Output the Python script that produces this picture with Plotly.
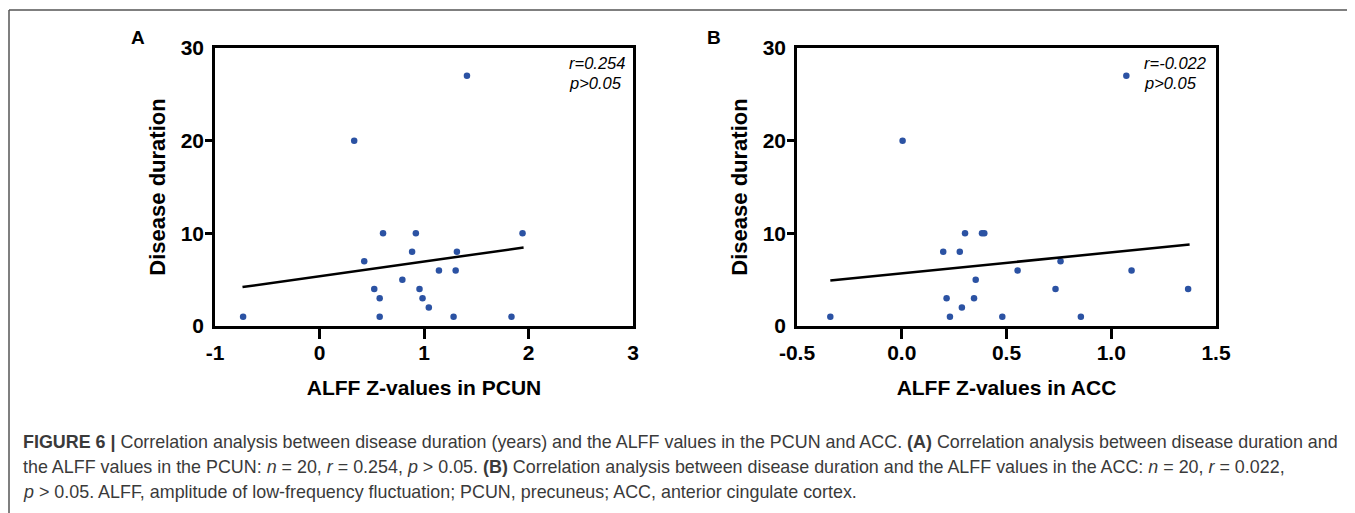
import plotly.graph_objects as go

# ---- data ----
a_x = [-0.731, 0.332, 1.411, 0.428, 0.524, 0.576, 0.576, 0.608, 0.793, 0.886,
       0.922, 0.957, 0.986, 1.046, 1.143, 1.283, 1.303, 1.315, 1.837, 1.943]
a_y = [1, 20, 27, 7, 4, 3, 1, 10, 5, 8, 10, 4, 3, 2, 6, 1, 6, 8, 1, 10]

b_x = [-0.341, 0.004, 1.072, 0.198, 0.214, 0.230, 0.277, 0.287, 0.302, 0.345,
       0.353, 0.383, 0.394, 0.480, 0.553, 0.734, 0.758, 0.855, 1.097, 1.367]
b_y = [1, 20, 27, 8, 3, 1, 8, 2, 10, 3, 5, 10, 10, 1, 6, 4, 7, 1, 6, 4]

a_fit_x = [-0.737, 1.953]
a_fit_y = [4.20, 8.47]
b_fit_x = [-0.341, 1.374]
b_fit_y = [4.92, 8.79]

y_ticks = [0, 10, 20, 30]
y_minor = [10, 20]
a_xticks = [-1, 0, 1, 2, 3]
a_xticklabels = ["-1", "0", "1", "2", "3"]
a_xminor = [0, 1, 2]
b_xticks = [-0.5, 0.0, 0.5, 1.0, 1.5]
b_xticklabels = ["-0.5", "0.0", "0.5", "1.0", "1.5"]
b_xminor = [0.0, 0.5, 1.0]

a_stats = ["r=0.254", "p>0.05"]
b_stats = ["r=-0.022", "p>0.05"]

caption_lines = [
    "<b>FIGURE 6 |</b> Correlation analysis between disease duration (years) and the ALFF values in the PCUN and ACC. "
    "<b>(A)</b> Correlation analysis between disease duration and",
    "the ALFF values in the PCUN: <i>n</i> = 20, <i>r</i> = 0.254, <i>p</i> > 0.05. <b>(B)</b> Correlation analysis "
    "between disease duration and the ALFF values in the ACC: <i>n</i> = 20, <i>r</i> = 0.022,",
    "<i>p</i> > 0.05. ALFF, amplitude of low-frequency fluctuation; PCUN, precuneus; ACC, anterior cingulate cortex.",
]

# the page body has an 8px margin, so the figure is sized to fill the window exactly
OFF = 8
W, H = 1355 - OFF, 513 - OFF
FONT = "Liberation Sans, Arial, Helvetica, sans-serif"
DOT = "#2b52a3"


def px(x):
    return (x - OFF) / W


def py(y):
    return 1 - (y - OFF) / H


fig = go.Figure()
fig.add_trace(go.Scatter(x=a_x, y=a_y, mode="markers", xaxis="x", yaxis="y",
                         marker=dict(color=DOT, size=6.5), hoverinfo="x+y"))
fig.add_trace(go.Scatter(x=a_fit_x, y=a_fit_y, mode="lines", xaxis="x", yaxis="y",
                         line=dict(color="black", width=2.5), hoverinfo="skip"))
fig.add_trace(go.Scatter(x=b_x, y=b_y, mode="markers", xaxis="x2", yaxis="y2",
                         marker=dict(color=DOT, size=6.5), hoverinfo="x+y"))
fig.add_trace(go.Scatter(x=b_fit_x, y=b_fit_y, mode="lines", xaxis="x2", yaxis="y2",
                         line=dict(color="black", width=2.5), hoverinfo="skip"))

tickfont = dict(family=FONT, size=21, color="black", weight="bold")
titlefont = dict(family=FONT, size=21, color="black", weight="bold")

common_x = dict(ticks="", showline=True, mirror=True, linewidth=2.5, linecolor="black",
                showgrid=False, zeroline=False, tickfont=tickfont, ticklabelstandoff=6,
                automargin=False)
common_y = dict(range=[0, 30], tickvals=y_ticks, ticks="", showline=True, mirror=True,
                linewidth=2.5, linecolor="black", showgrid=False, zeroline=False,
                tickfont=tickfont, ticklabelstandoff=4, automargin=False,
                minor=dict(tickvals=y_minor, ticks="outside", ticklen=7, tickwidth=2.5,
                           tickcolor="black", showgrid=False),
                title=dict(text="Disease duration", font=dict(family=FONT, size=22, color="black",
                                                              weight="bold"), standoff=9))

xd_a = [px(215), px(633)]
xd_b = [px(797), px(1216)]
yd = [py(326), py(48)]

fig.update_layout(
    width=W, height=H,
    margin=dict(l=0, r=0, t=0, b=0, pad=0, autoexpand=False),
    paper_bgcolor="white", plot_bgcolor="white",
    showlegend=False,
    xaxis=dict(domain=xd_a, range=[-1, 3], tickvals=a_xticks, ticktext=a_xticklabels,
               minor=dict(tickvals=a_xminor, ticks="outside", ticklen=10, tickwidth=2.5,
                          tickcolor="black", showgrid=False),
               title=dict(text="ALFF Z-values in PCUN", font=titlefont, standoff=18),
               anchor="y", **common_x),
    yaxis=dict(domain=yd, anchor="x", **common_y),
    xaxis2=dict(domain=xd_b, range=[-0.5, 1.5], tickvals=b_xticks, ticktext=b_xticklabels,
                minor=dict(tickvals=b_xminor, ticks="outside", ticklen=10, tickwidth=2.5,
                           tickcolor="black", showgrid=False),
                title=dict(text="ALFF Z-values in ACC", font=titlefont, standoff=18),
                anchor="y2", **common_x),
    yaxis2=dict(domain=yd, anchor="x2", **common_y),
)

ann = []
# panel letters
ann.append(dict(text="<b>A</b>", x=px(138), y=py(37), xref="paper", yref="paper",
                xanchor="center", yanchor="middle",
                showarrow=False, font=dict(family=FONT, size=19, color="black")))
ann.append(dict(text="<b>B</b>", x=px(714), y=py(37), xref="paper", yref="paper",
                xanchor="center", yanchor="middle",
                showarrow=False, font=dict(family=FONT, size=19, color="black")))
# stats
for i, t in enumerate(a_stats):
    ann.append(dict(text="<i>%s</i>" % t, x=px(567), y=py(63 + 20 * i), xref="paper", yref="paper",
                    xanchor="left", yanchor="middle", showarrow=False,
                    font=dict(family=FONT, size=16.5, color="black")))
for i, t in enumerate(b_stats):
    ann.append(dict(text="<i>%s</i>" % t, x=px(1142), y=py(63 + 20 * i), xref="paper", yref="paper",
                    xanchor="left", yanchor="middle", showarrow=False,
                    font=dict(family=FONT, size=16.5, color="black")))
# caption
for i, t in enumerate(caption_lines):
    ann.append(dict(text=t, x=px(21), y=py(442 + 25 * i), xref="paper", yref="paper",
                    xanchor="left", yanchor="middle", showarrow=False, align="left",
                    font=dict(family=FONT, size=17.9, color="#3a3a3a")))
fig.update_layout(annotations=ann)

# frame (top and left edges)
fig.update_layout(shapes=[
    dict(type="line", xref="paper", yref="paper", x0=px(9), x1=1.0, y0=py(10), y1=py(10),
         line=dict(color="#555555", width=1.5)),
    dict(type="line", xref="paper", yref="paper", x0=px(9), x1=px(9), y0=py(10), y1=0,
         line=dict(color="#555555", width=1.5)),
])

fig.write_html("out.html")
